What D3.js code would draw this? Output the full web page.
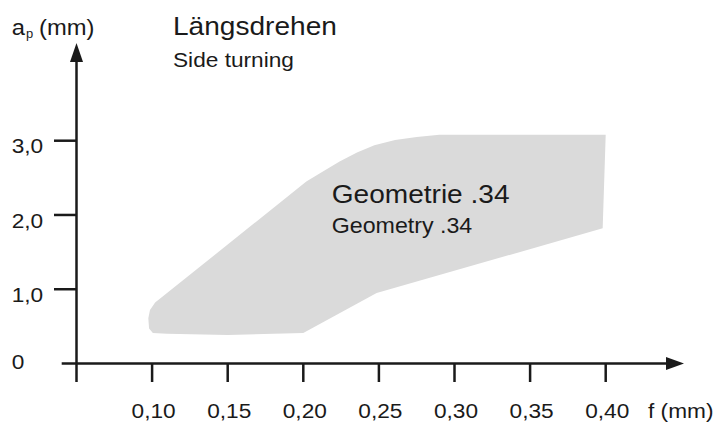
<!DOCTYPE html>
<html>
<head>
<meta charset="utf-8">
<script src="https://cdn.jsdelivr.net/npm/d3@7"></script>
<style>
  body { margin: 0; background: #fff; }
  svg { display: block; font-family: "Liberation Sans", Arial, sans-serif; }
</style>
</head>
<body>
<svg id="chart"></svg>
<script>
// tick values and labels
var xTicks = [0.10, 0.15, 0.20, 0.25, 0.30, 0.35, 0.40];
var xTickLabels = ["0,10", "0,15", "0,20", "0,25", "0,30", "0,35", "0,40"];
var yTicks = [0, 1, 2, 3];
var yTickLabels = ["0", "1,0", "2,0", "3,0"];

// outline of the application range (f in mm, ap in mm)
var areaF  = [0.1005, 0.098, 0.0975, 0.0986, 0.102, 0.202, 0.2124, 0.224, 0.2355, 0.247, 0.2607, 0.275, 0.290, 0.400, 0.398, 0.2485, 0.200, 0.150, 0.110];
var areaAp = [0.41,   0.47,  0.61,   0.72,   0.82,  2.45,  2.58,   2.72,  2.84,   2.94,  3.01,   3.05,  3.08,  3.08,  1.82,  0.95,   0.41,  0.385, 0.40];

var width = 726, height = 422;
var ink = "#1a1a1a";
var sx = 1.08; // the original lettering is slightly wide

var svg = d3.select("#chart")
    .attr("width", width)
    .attr("height", height);

var x = d3.scaleLinear().domain([0.05, 0.40]).range([76.5, 605.7]);
var y = d3.scaleLinear().domain([0, 3]).range([363.5, 140.7]);

// shaded area
var pts = areaF.map(function(f, i){ return [f, areaAp[i]]; });
var line = d3.line()
    .x(function(d){ return x(d[0]); })
    .y(function(d){ return y(d[1]); })
    .curve(d3.curveLinearClosed);
svg.append("path")
    .attr("d", line(pts))
    .attr("fill", "#dadada");

// helper for stretched text
function label(tx, ty, str, size, anchor) {
  return svg.append("text")
      .attr("transform", "translate(" + tx + "," + ty + ") scale(" + sx + ",1)")
      .attr("text-anchor", anchor || "start")
      .style("font-size", size + "px")
      .style("fill", ink)
      .text(str);
}

// axes lines
var x0 = x(0.05), y0 = y(0);
svg.append("line")
    .attr("x1", x0).attr("x2", x0)
    .attr("y1", 60).attr("y2", 382)
    .attr("stroke", ink).attr("stroke-width", 2.5);
svg.append("line")
    .attr("x1", 61.7).attr("x2", 668)
    .attr("y1", y0).attr("y2", y0)
    .attr("stroke", ink).attr("stroke-width", 2.5);

// arrow heads
svg.append("path")
    .attr("d", "M" + x0 + ",43 L" + (x0 - 6.5) + ",62 L" + (x0 + 6.5) + ",62 Z")
    .attr("fill", ink);
svg.append("path")
    .attr("d", "M684," + y0 + " L666," + (y0 - 6.5) + " L666," + (y0 + 6.5) + " Z")
    .attr("fill", ink);

// x ticks
svg.selectAll(".xtick")
    .data(xTicks)
    .enter().append("line")
    .attr("class", "xtick")
    .attr("x1", function(d){ return x(d); })
    .attr("x2", function(d){ return x(d); })
    .attr("y1", y0).attr("y2", 382)
    .attr("stroke", ink).attr("stroke-width", 2.5);
xTicks.forEach(function(d, i){
  label(x(d) + 1.5, 418, xTickLabels[i], 21, "middle");
});
label(648, 418, "f (mm)", 21);

// y ticks (0 sits on the x axis, no tick mark)
svg.selectAll(".ytick")
    .data(yTicks.filter(function(d){ return d > 0; }))
    .enter().append("line")
    .attr("class", "ytick")
    .attr("x1", 54).attr("x2", x0)
    .attr("y1", function(d){ return y(d); })
    .attr("y2", function(d){ return y(d); })
    .attr("stroke", ink).attr("stroke-width", 2.5);
yTicks.forEach(function(d, i){
  var off = d === 0 ? 5 : 12.6;
  label(11.7, y(d) + off, yTickLabels[i], 21);
});

// y axis title a_p (mm)
label(11.7, 35, "a", 22);
label(26, 38, "p", 12);
label(39, 35, "(mm)", 22);

// titles
label(173, 35, "Längsdrehen", 26);
label(173, 66.7, "Side turning", 21);
label(331.7, 203.3, "Geometrie .34", 26);
label(331.7, 233.3, "Geometry .34", 21.5);
</script>
</body>
</html>
